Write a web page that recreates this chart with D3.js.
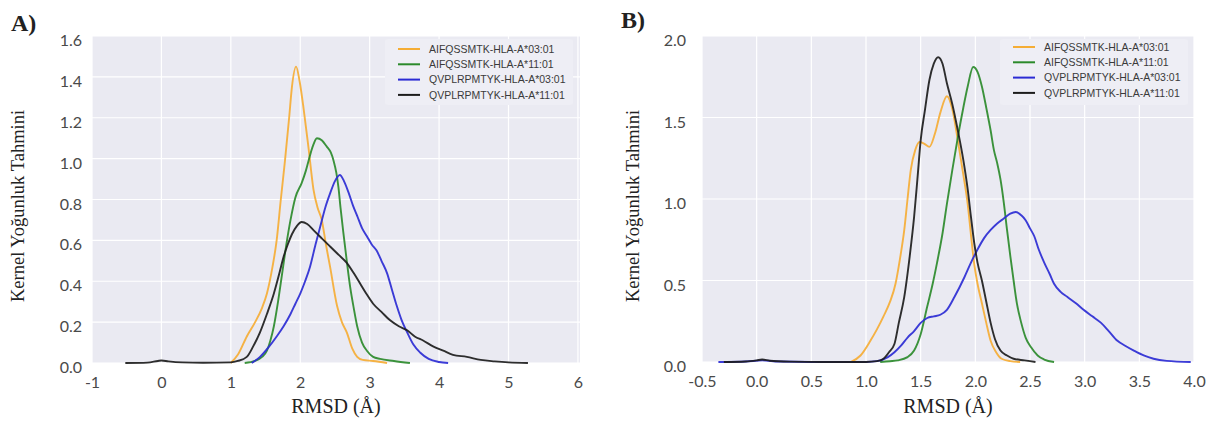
<!DOCTYPE html>
<html>
<head>
<meta charset="utf-8">
<script src="https://cdn.jsdelivr.net/npm/d3@7"></script>
<style>
    body { margin: 0; background: #fff; }
    .tick text { font-family: Lato, "Open Sans", sans-serif; font-size: 16px; fill: #4a4a4a; }
    .axis path, .axis line { display: none; }
    .title { font-family: "Liberation Serif", "DejaVu Serif", serif; fill: #222; }
    .legend text { font-family: "Liberation Sans", Arial, sans-serif; font-size: 10.5px; fill: #3a3a3a; }
</style>
</head>
<body>
<svg id="chart" width="1216" height="426"></svg>
<script>
// legend / series names
const seriesNames = ["AIFQSSMTK-HLA-A*03:01", "AIFQSSMTK-HLA-A*11:01", "QVPLRPMTYK-HLA-A*03:01", "QVPLRPMTYK-HLA-A*11:01"];
const seriesColors = ["#f5ad35", "#2b8a2b", "#2b2bd4", "#1c1c1c"];

// panel A ticks
const ticksAX = [-1, 0, 1, 2, 3, 4, 5, 6];
const ticksAY = [0.0, 0.2, 0.4, 0.6, 0.8, 1.0, 1.2, 1.4, 1.6];
// panel B ticks
const ticksBX = [-0.5, 0.0, 0.5, 1.0, 1.5, 2.0, 2.5, 3.0, 3.5, 4.0];
const ticksBY = [0.0, 0.5, 1.0, 1.5, 2.0];

// panel A densities [RMSD, density]
const aOrange = [[1.0,0],[1.1,0.04],[1.23,0.13],[1.35,0.20],[1.45,0.27],[1.52,0.34],[1.60,0.47],[1.66,0.60],[1.72,0.80],[1.78,0.99],[1.84,1.20],[1.88,1.35],[1.94,1.45],[1.99,1.38],[2.05,1.24],[2.12,1.05],[2.19,0.85],[2.25,0.76],[2.31,0.70],[2.37,0.58],[2.43,0.47],[2.53,0.28],[2.60,0.20],[2.67,0.15],[2.75,0.07],[2.82,0.03],[2.9,0.015],[3.05,0.01],[3.25,0]];
const aGreen = [[1.2,0],[1.35,0.01],[1.45,0.03],[1.52,0.06],[1.57,0.11],[1.62,0.18],[1.68,0.30],[1.74,0.44],[1.80,0.58],[1.86,0.70],[1.93,0.81],[2.02,0.88],[2.08,0.94],[2.12,0.99],[2.18,1.06],[2.24,1.10],[2.31,1.09],[2.38,1.06],[2.44,1.03],[2.48,0.99],[2.52,0.93],[2.55,0.86],[2.58,0.76],[2.62,0.64],[2.67,0.50],[2.72,0.37],[2.77,0.27],[2.82,0.18],[2.89,0.10],[2.96,0.06],[3.05,0.03],[3.15,0.02],[3.35,0.01],[3.58,0]];
const aBlue = [[1.3,0],[1.42,0.03],[1.55,0.08],[1.66,0.13],[1.76,0.18],[1.86,0.24],[1.93,0.29],[2.0,0.34],[2.07,0.40],[2.14,0.47],[2.22,0.58],[2.29,0.67],[2.36,0.76],[2.43,0.83],[2.50,0.89],[2.57,0.92],[2.63,0.89],[2.70,0.83],[2.76,0.77],[2.82,0.72],[2.89,0.66],[2.96,0.62],[3.03,0.58],[3.10,0.55],[3.17,0.50],[3.25,0.44],[3.32,0.36],[3.39,0.28],[3.46,0.21],[3.54,0.15],[3.63,0.09],[3.73,0.05],[3.85,0.02],[4.0,0.005],[4.13,0]];
const aBlack = [[-0.52,0],[-0.2,0.002],[-0.05,0.01],[0.0,0.012],[0.1,0.008],[0.3,0.003],[0.6,0.001],[1.0,0.003],[1.1,0.01],[1.23,0.03],[1.32,0.08],[1.42,0.15],[1.52,0.24],[1.62,0.34],[1.70,0.44],[1.76,0.52],[1.82,0.58],[1.88,0.63],[1.95,0.67],[2.02,0.69],[2.10,0.68],[2.19,0.65],[2.31,0.61],[2.43,0.57],[2.55,0.53],[2.67,0.49],[2.77,0.44],[2.86,0.39],[2.95,0.34],[3.05,0.29],[3.17,0.25],[3.29,0.21],[3.42,0.18],[3.54,0.16],[3.65,0.13],[3.77,0.11],[3.92,0.08],[4.06,0.06],[4.2,0.04],[4.40,0.03],[4.6,0.015],[4.8,0.008],[5.0,0.003],[5.28,0]];

// panel B densities [RMSD, density]
const bOrange = [[0.86,0],[0.95,0.04],[1.04,0.13],[1.10,0.20],[1.16,0.28],[1.22,0.37],[1.27,0.48],[1.31,0.63],[1.35,0.81],[1.38,1.00],[1.41,1.18],[1.45,1.30],[1.49,1.35],[1.53,1.34],[1.58,1.32],[1.63,1.40],[1.68,1.53],[1.74,1.63],[1.79,1.55],[1.84,1.36],[1.89,1.15],[1.93,0.97],[1.96,0.78],[1.99,0.60],[2.02,0.48],[2.06,0.36],[2.10,0.24],[2.14,0.13],[2.19,0.06],[2.24,0.02],[2.32,0.005],[2.41,0]];
const bGreen = [[1.13,0],[1.22,0.005],[1.29,0.01],[1.38,0.03],[1.44,0.07],[1.50,0.17],[1.56,0.34],[1.61,0.48],[1.65,0.61],[1.70,0.79],[1.74,0.97],[1.79,1.18],[1.84,1.38],[1.89,1.56],[1.93,1.69],[1.98,1.81],[2.02,1.78],[2.06,1.69],[2.10,1.56],[2.14,1.42],[2.17,1.30],[2.20,1.22],[2.23,1.12],[2.26,0.98],[2.29,0.81],[2.32,0.65],[2.35,0.50],[2.38,0.36],[2.42,0.24],[2.46,0.15],[2.51,0.09],[2.57,0.04],[2.63,0.015],[2.72,0]];
const bBlue = [[-0.35,0],[-0.1,0.003],[0.05,0.01],[0.2,0.003],[0.5,0],[1.0,0],[1.10,0.005],[1.20,0.03],[1.26,0.06],[1.32,0.10],[1.38,0.15],[1.44,0.19],[1.50,0.24],[1.56,0.27],[1.62,0.28],[1.68,0.29],[1.74,0.32],[1.81,0.40],[1.90,0.52],[1.96,0.61],[2.02,0.69],[2.08,0.76],[2.14,0.81],[2.20,0.85],[2.26,0.88],[2.32,0.91],[2.37,0.92],[2.42,0.90],[2.46,0.87],[2.50,0.82],[2.54,0.77],[2.58,0.69],[2.63,0.61],[2.68,0.54],[2.72,0.48],[2.78,0.43],[2.84,0.40],[2.92,0.36],[2.99,0.32],[3.07,0.28],[3.15,0.24],[3.22,0.19],[3.30,0.13],[3.37,0.10],[3.45,0.07],[3.54,0.04],[3.63,0.02],[3.75,0.007],[3.97,0]];
const bBlack = [[-0.3,0],[-0.1,0.003],[0.0,0.01],[0.05,0.015],[0.12,0.008],[0.3,0.002],[0.6,0],[1.0,0],[1.10,0.005],[1.16,0.02],[1.21,0.06],[1.26,0.11],[1.30,0.24],[1.35,0.40],[1.40,0.65],[1.44,0.89],[1.47,1.12],[1.50,1.36],[1.54,1.55],[1.58,1.73],[1.62,1.83],[1.66,1.87],[1.70,1.83],[1.74,1.71],[1.79,1.58],[1.84,1.42],[1.89,1.24],[1.93,1.06],[1.96,0.89],[1.99,0.73],[2.02,0.61],[2.06,0.50],[2.10,0.37],[2.14,0.24],[2.18,0.14],[2.23,0.07],[2.29,0.04],[2.35,0.02],[2.45,0.01],[2.55,0]];

const svg = d3.select("#chart");

// plain hyphen for negatives, like the original labels
const hyphen = fmt => d => fmt(d).replace("\u2212", "-");

function drawPanel(p) {

    let x = d3.scaleLinear().domain(p.xDomain).range([p.left, p.right]);
    let y = d3.scaleLinear().domain(p.yDomain).range([p.bottom, p.top]);

    let g = svg.append("g").attr("class", "panel");

    g.append("rect")
        .attr("x", p.left).attr("y", p.top)
        .attr("width", p.right - p.left).attr("height", p.bottom - p.top)
        .attr("fill", "#eaeaf2");

    // grid
    g.append("g").selectAll("line.vx")
        .data(p.xTicks)
        .join("line")
        .attr("x1", d => x(d)).attr("x2", d => x(d))
        .attr("y1", p.top).attr("y2", p.bottom)
        .attr("stroke", "#fff").attr("stroke-width", 1.2);

    g.append("g").selectAll("line.hy")
        .data(p.yTicks)
        .join("line")
        .attr("x1", p.left).attr("x2", p.right)
        .attr("y1", d => y(d)).attr("y2", d => y(d))
        .attr("stroke", "#fff").attr("stroke-width", 1.2);

    // axes
    g.append("g")
        .attr("class", "axis")
        .attr("transform", "translate(0," + p.bottom + ")")
        .call(d3.axisBottom(x).tickValues(p.xTicks).tickSize(0).tickPadding(14).tickFormat(hyphen(p.xFormat)));

    g.append("g")
        .attr("class", "axis")
        .attr("transform", "translate(" + p.left + ",0)")
        .call(d3.axisLeft(y).tickValues(p.yTicks).tickSize(0).tickPadding(p.yPad).tickFormat(d3.format(".1f")))
        .selectAll("text").attr("dy", "0.6em");

    // density curves
    let line = d3.line()
        .x(d => x(d[0]))
        .y(d => y(d[1]))
        .curve(d3.curveMonotoneX);

    g.append("g").selectAll("path")
        .data(p.series)
        .join("path")
        .attr("d", d => line(d))
        .attr("fill", "none")
        .attr("stroke", (d, i) => seriesColors[i])
        .attr("stroke-width", 1.9)
        .attr("stroke-opacity", 0.92);

    // legend
    let lg = g.append("g").attr("class", "legend");
    lg.append("rect")
        .attr("x", p.legendX - 13).attr("y", p.top + 3)
        .attr("width", 188).attr("height", 66).attr("rx", 3)
        .attr("fill", "#eeeef5");

    let item = lg.selectAll("g")
        .data(seriesNames)
        .join("g")
        .attr("transform", (d, i) => "translate(" + p.legendX + "," + (p.legendY + i * 15.3) + ")");

    item.append("line")
        .attr("x1", 0).attr("x2", 22)
        .attr("stroke", (d, i) => seriesColors[i])
        .attr("stroke-width", 2);

    item.append("text")
        .attr("x", 31).attr("dy", "0.35em")
        .text(d => d);

    // titles
    g.append("text")
        .attr("class", "title")
        .attr("x", (p.left + p.right) / 2).attr("y", 413)
        .attr("text-anchor", "middle")
        .style("font-size", "20px")
        .text("RMSD (Å)");

    g.append("text")
        .attr("class", "title")
        .attr("transform", "translate(" + p.yTitleX + ",206) rotate(-90)")
        .attr("text-anchor", "middle")
        .style("font-size", "18.5px")
        .text("Kernel Yoğunluk Tahmini");

    g.append("text")
        .attr("class", "title")
        .attr("x", p.labelX).attr("y", p.labelY)
        .style("font-size", "24px").style("font-weight", "bold")
        .text(p.label);
}

drawPanel({
    label: "A)", labelX: 11, labelY: 31,
    left: 92, right: 580, top: 36, bottom: 363,
    xDomain: [-1, 6.03], yDomain: [0, 1.6],
    xTicks: ticksAX, yTicks: ticksAY, xFormat: d3.format("d"), yPad: 10,
    yTitleX: 24, legendX: 398, legendY: 49,
    series: [aOrange, aGreen, aBlue, aBlack]
});

drawPanel({
    label: "B)", labelX: 621, labelY: 28,
    left: 702, right: 1194, top: 36, bottom: 362,
    xDomain: [-0.5, 4.0], yDomain: [0, 2.0],
    xTicks: ticksBX, yTicks: ticksBY, xFormat: d3.format(".1f"), yPad: 16,
    yTitleX: 639, legendX: 1013, legendY: 47,
    series: [bOrange, bGreen, bBlue, bBlack]
});
</script>
</body>
</html>
